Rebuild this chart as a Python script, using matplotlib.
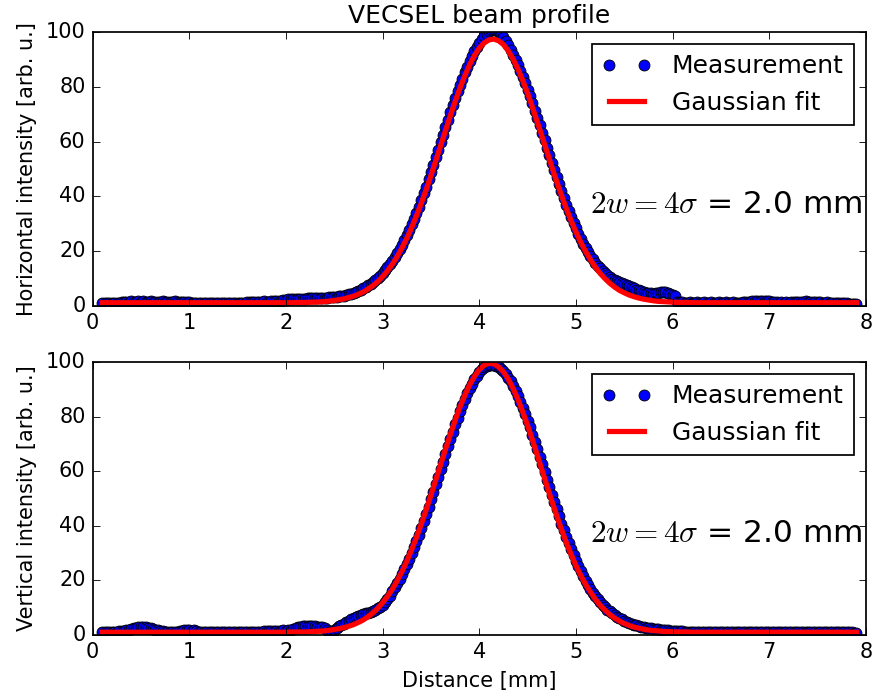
import numpy as np
import matplotlib
matplotlib.use('Agg')
import matplotlib.pyplot as plt

plt.style.use('classic')

# measured points every 0.025 mm, fitted curve every 0.05 mm, both from 0.1 mm
x_start = 0.1
meas_step = 0.025
fit_step = 0.05

horiz_meas = [
    1.0, 1.1, 1.0, 1.1, 1.0, 1.0, 1.1, 1.2,          # 0.1
    1.3, 1.5, 1.6, 1.6, 1.7, 1.6, 1.6, 1.7,          # 0.3
    1.6, 1.7, 1.6, 1.6, 1.7, 1.6, 1.5, 1.6,          # 0.5
    1.6, 1.7, 1.6, 1.6, 1.5, 1.6, 1.7, 1.6,          # 0.7
    1.6, 1.5, 1.6, 1.6, 1.4, 1.2, 1.1, 1.1,          # 0.9
    1.0, 1.1, 1.1, 1.0, 1.1, 1.0, 1.1, 1.0,          # 1.1
    1.1, 1.0, 1.1, 1.1, 1.0, 1.1, 1.0, 1.1,          # 1.3
    1.1, 1.0, 1.1, 1.2, 1.3, 1.5, 1.6, 1.5,          # 1.5
    1.6, 1.5, 1.6, 1.7, 1.6, 1.6, 1.7, 1.8,          # 1.7
    1.8, 1.9, 2.0, 2.2, 2.3, 2.4, 2.5, 2.5,          # 1.9
    2.5, 2.6, 2.6, 2.7, 2.7, 2.8, 2.8, 2.8,          # 2.1
    2.9, 2.9, 3.0, 3.0, 3.1, 3.1, 3.2, 3.3,          # 2.3
    3.2, 3.3, 3.5, 3.6, 3.8, 4.0, 4.3, 4.5,          # 2.5
    4.9, 5.2, 5.6, 6.0, 6.4, 6.9, 7.5, 8.1,          # 2.7
    8.7, 9.4, 10.2, 11.1, 12.0, 13.0, 14.1, 15.3,    # 2.9
    16.4, 17.8, 19.2, 20.7, 22.4, 24.1, 25.9, 27.8,  # 3.1
    29.8, 31.9, 34.1, 36.3, 38.7, 41.1, 43.6, 46.2,  # 3.3
    48.8, 51.4, 54.2, 56.9, 59.7, 62.4, 65.2, 67.8,  # 3.5
    70.7, 73.2, 75.9, 78.3, 80.8, 83.0, 85.3, 87.3,  # 3.7
    89.5, 91.3, 93.1, 94.6, 96.1, 97.4, 98.5, 99.4,  # 3.9
    100.2, 100.6, 100.8, 100.6, 100.0, 99.2, 98.1, 96.8,  # 4.1
    95.2, 93.5, 91.7, 89.9, 88.0, 85.9, 83.7, 81.4,  # 4.3
    79.0, 76.5, 73.9, 71.3, 68.6, 65.9, 63.1, 60.4,  # 4.5
    57.7, 55.0, 52.2, 49.6, 46.9, 44.4, 41.8, 39.4,  # 4.7
    36.9, 34.6, 32.4, 30.3, 28.3, 26.4, 24.5, 22.8,  # 4.9
    21.2, 19.7, 18.3, 17.0, 15.8, 14.7, 13.7, 12.8,  # 5.1
    12.0, 11.2, 10.5, 9.9, 9.4, 9.0, 8.6, 8.3,       # 5.3
    8.0, 7.6, 7.2, 6.8, 6.4, 6.0, 5.7, 5.4,          # 5.5
    5.1, 4.9, 4.7, 4.6, 4.5, 4.6, 4.8, 5.0,          # 5.7
    5.1, 5.0, 4.8, 4.5, 4.1, 3.6, 1.6, 1.3,          # 5.9
    1.3, 1.2, 1.2, 1.3, 1.2, 1.2, 1.3, 1.2,          # 6.1
    1.2, 1.3, 1.2, 1.2, 1.3, 1.2, 1.2, 1.3,          # 6.3
    1.2, 1.2, 1.3, 1.2, 1.2, 1.3, 1.2, 1.2,          # 6.5
    1.2, 1.3, 1.4, 1.5, 1.6, 1.7, 1.8, 1.7,          # 6.7
    1.8, 1.9, 1.8, 1.7, 1.8, 1.6, 1.4, 1.3,          # 6.9
    1.2, 1.3, 1.2, 1.3, 1.2, 1.4, 1.5, 1.6,          # 7.1
    1.6, 1.5, 1.6, 1.7, 1.6, 1.5, 1.6, 1.5,          # 7.3
    1.4, 1.3, 1.2, 1.2, 1.3, 1.2, 1.2, 1.1,          # 7.5
    1.1, 1.2, 1.1, 1.0, 1.0, 0.9, 0.8, 0.7,          # 7.7
    0.6,                                             # 7.9
]

horiz_fit = [
    1.2, 1.2, 1.2, 1.2,      # 0.1
    1.2, 1.2, 1.2, 1.2,      # 0.3
    1.2, 1.2, 1.2, 1.2,      # 0.5
    1.2, 1.2, 1.2, 1.2,      # 0.7
    1.2, 1.2, 1.2, 1.2,      # 0.9
    1.2, 1.2, 1.2, 1.2,      # 1.1
    1.2, 1.2, 1.2, 1.2,      # 1.3
    1.2, 1.2, 1.2, 1.2,      # 1.5
    1.2, 1.2, 1.2, 1.2,      # 1.7
    1.2, 1.2, 1.2, 1.2,      # 1.9
    1.3, 1.3, 1.3, 1.4,      # 2.1
    1.4, 1.5, 1.6, 1.8,      # 2.3
    2.0, 2.3, 2.6, 3.1,      # 2.5
    3.6, 4.3, 5.1, 6.2,      # 2.7
    7.4, 8.9, 10.7, 12.8,    # 2.9
    15.2, 18.0, 21.2, 24.7,  # 3.1
    28.6, 32.9, 37.5, 42.4,  # 3.3
    47.6, 53.0, 58.5, 64.0,  # 3.5
    69.4, 74.6, 79.5, 84.0,  # 3.7
    88.0, 91.4, 94.1, 96.0,  # 3.9
    97.1, 97.4, 96.8, 95.4,  # 4.1
    93.1, 90.1, 86.5, 82.3,  # 4.3
    77.6, 72.5, 67.2, 61.8,  # 4.5
    56.3, 50.8, 45.5, 40.4,  # 4.7
    35.6, 31.1, 27.0, 23.2,  # 4.9
    19.9, 16.9, 14.2, 11.9,  # 5.1
    10.0, 8.3, 6.9, 5.7,     # 5.3
    4.8, 4.0, 3.4, 2.9,      # 5.5
    2.5, 2.2, 1.9, 1.7,      # 5.7
    1.6, 1.5, 1.4, 1.3,      # 5.9
    1.3, 1.3, 1.2, 1.2,      # 6.1
    1.2, 1.2, 1.2, 1.2,      # 6.3
    1.2, 1.2, 1.2, 1.2,      # 6.5
    1.2, 1.2, 1.2, 1.2,      # 6.7
    1.2, 1.2, 1.2, 1.2,      # 6.9
    1.2, 1.2, 1.2, 1.2,      # 7.1
    1.2, 1.2, 1.2, 1.2,      # 7.3
    1.2, 1.2, 1.2, 1.2,      # 7.5
    1.2, 1.2, 1.2, 1.2,      # 7.7
    1.2,                     # 7.9
]

vert_meas = [
    1.0, 1.1, 1.0, 1.1, 1.2, 1.1, 1.2, 1.3,          # 0.1
    1.4, 1.6, 1.8, 2.0, 2.2, 2.4, 2.6, 2.8,          # 0.3
    2.9, 2.9, 2.8, 2.6, 2.4, 2.2, 2.0, 1.7,          # 0.5
    1.5, 1.3, 1.2, 1.1, 1.2, 1.2, 1.1, 1.2,          # 0.7
    1.4, 1.6, 1.7, 1.8, 1.7, 1.6, 1.7, 1.5,          # 0.9
    1.2, 1.1, 1.0, 1.0, 1.1, 1.0, 1.0, 1.1,          # 1.1
    1.0, 1.0, 1.1, 1.0, 1.0, 1.1, 1.0, 1.0,          # 1.3
    1.1, 1.0, 1.0, 1.1, 1.0, 1.0, 1.1, 1.0,          # 1.5
    1.0, 1.1, 1.2, 1.3, 1.4, 1.5, 1.6, 1.5,          # 1.7
    1.6, 1.5, 1.6, 1.7, 1.6, 1.7, 1.9, 2.2,          # 1.9
    2.5, 2.8, 3.0, 3.2, 3.3, 3.3, 3.2, 3.3,          # 2.1
    3.2, 3.1, 3.0, 2.8, 2.5, 2.0, 1.0, 0.4,          # 2.3
    2.0, 2.6, 3.2, 3.7, 4.2, 4.7, 5.2, 5.7,          # 2.5
    6.1, 6.5, 6.9, 7.3, 7.6, 7.9, 8.2, 8.5,          # 2.7
    8.8, 9.3, 9.8, 10.4, 11.1, 12.0, 13.0, 14.3,     # 2.9
    16.0, 17.4, 18.9, 20.5, 22.2, 24.0, 25.9, 27.9,  # 3.1
    30.0, 32.2, 34.5, 36.8, 39.3, 41.8, 44.3, 47.0,  # 3.3
    49.7, 52.4, 55.2, 58.0, 60.7, 63.5, 66.3, 69.1,  # 3.5
    71.8, 74.5, 77.1, 79.6, 82.0, 84.3, 86.5, 88.5,  # 3.7
    90.4, 92.1, 93.7, 95.0, 96.3, 97.3, 98.0, 98.6,  # 3.9
    98.8, 98.9, 98.8, 98.5, 98.0, 97.4, 96.6, 95.5,  # 4.1
    94.3, 92.9, 91.3, 89.5, 87.6, 85.5, 83.3, 81.0,  # 4.3
    78.5, 76.0, 73.4, 70.8, 68.0, 65.3, 62.5, 59.7,  # 4.5
    56.9, 54.2, 51.4, 48.7, 46.0, 43.4, 40.8, 38.3,  # 4.7
    35.9, 33.6, 31.4, 29.2, 27.2, 25.2, 23.4, 21.6,  # 4.9
    19.9, 18.4, 16.9, 15.5, 14.2, 13.0, 11.9, 10.9,  # 5.1
    10.2, 9.3, 8.6, 7.9, 7.3, 6.7, 6.2, 5.7,         # 5.3
    5.2, 4.8, 4.4, 4.1, 3.8, 3.5, 3.3, 3.1,          # 5.5
    2.9, 2.7, 2.6, 2.4, 2.3, 2.2, 2.1, 2.0,          # 5.7
    1.9, 1.8, 1.7, 1.6, 1.5, 1.5, 1.4, 1.3,          # 5.9
    1.3, 1.2, 1.2, 1.1, 1.2, 1.1, 1.1, 1.0,          # 6.1
    1.1, 1.0, 1.1, 1.0, 1.0, 1.1, 1.0, 1.0,          # 6.3
    1.0, 1.1, 1.0, 1.0, 1.1, 1.0, 1.0, 1.1,          # 6.5
    1.0, 1.0, 1.1, 1.0, 1.0, 1.1, 1.0, 1.0,          # 6.7
    1.1, 1.0, 1.0, 1.1, 1.0, 1.0, 1.1, 1.0,          # 6.9
    1.0, 1.1, 1.0, 1.0, 1.0, 1.1, 1.0, 1.0,          # 7.1
    1.0, 1.0, 1.1, 1.0, 1.0, 1.0, 1.1, 1.0,          # 7.3
    1.0, 1.1, 1.0, 1.0, 1.0, 1.0, 1.1, 1.0,          # 7.5
    1.0, 1.0, 1.0, 1.1, 1.0, 1.0, 1.0, 0.9,          # 7.7
    0.9,                                             # 7.9
]

vert_fit = [
    1.0, 1.0, 1.0, 1.0,      # 0.1
    1.0, 1.0, 1.0, 1.0,      # 0.3
    1.0, 1.0, 1.0, 1.0,      # 0.5
    1.0, 1.0, 1.0, 1.0,      # 0.7
    1.0, 1.0, 1.0, 1.0,      # 0.9
    1.0, 1.0, 1.0, 1.0,      # 1.1
    1.0, 1.0, 1.0, 1.0,      # 1.3
    1.0, 1.0, 1.0, 1.0,      # 1.5
    1.0, 1.0, 1.0, 1.0,      # 1.7
    1.0, 1.0, 1.0, 1.1,      # 1.9
    1.1, 1.1, 1.1, 1.2,      # 2.1
    1.3, 1.4, 1.5, 1.7,      # 2.3
    2.0, 2.3, 2.7, 3.2,      # 2.5
    3.8, 4.6, 5.5, 6.7,      # 2.7
    8.1, 9.8, 11.8, 14.1,    # 2.9
    16.7, 19.8, 23.2, 27.0,  # 3.1
    31.2, 35.7, 40.6, 45.8,  # 3.3
    51.2, 56.8, 62.4, 68.0,  # 3.5
    73.4, 78.6, 83.5, 87.8,  # 3.7
    91.6, 94.7, 97.2, 98.8,  # 3.9
    99.5, 99.3, 98.2, 96.4,  # 4.1
    93.7, 90.3, 86.3, 81.7,  # 4.3
    76.7, 71.4, 65.9, 60.2,  # 4.5
    54.6, 49.1, 43.8, 38.7,  # 4.7
    33.9, 29.5, 25.4, 21.8,  # 4.9
    18.5, 15.7, 13.1, 10.9,  # 5.1
    9.1, 7.5, 6.2, 5.1,      # 5.3
    4.2, 3.5, 2.9, 2.5,      # 5.5
    2.1, 1.8, 1.6, 1.5,      # 5.7
    1.3, 1.2, 1.2, 1.1,      # 5.9
    1.1, 1.1, 1.0, 1.0,      # 6.1
    1.0, 1.0, 1.0, 1.0,      # 6.3
    1.0, 1.0, 1.0, 1.0,      # 6.5
    1.0, 1.0, 1.0, 1.0,      # 6.7
    1.0, 1.0, 1.0, 1.0,      # 6.9
    1.0, 1.0, 1.0, 1.0,      # 7.1
    1.0, 1.0, 1.0, 1.0,      # 7.3
    1.0, 1.0, 1.0, 1.0,      # 7.5
    1.0, 1.0, 1.0, 1.0,      # 7.7
    1.0,                     # 7.9
]

ylabels = ['Horizontal intensity [arb. u.]', 'Vertical intensity [arb. u.]']
width_note = r'$2w=4\sigma$ = 2.0 mm'

fig = plt.figure(figsize=(877 / 125.0, 698 / 125.0), dpi=125)
fig.patch.set_facecolor('white')
ax1 = fig.add_axes([0.1055, 0.5616, 0.882, 0.3926])
ax2 = fig.add_axes([0.1055, 0.0903, 0.882, 0.3911])

for ax, meas, fit, lab in zip([ax1, ax2], [horiz_meas, vert_meas],
                              [horiz_fit, vert_fit], ylabels):
    xm = x_start + meas_step * np.arange(len(meas))
    xf = x_start + fit_step * np.arange(len(fit))
    ax.plot(xm, meas, 'bo', markersize=6.3, label='Measurement')
    ax.plot(xf, fit, 'r-', lw=3, label='Gaussian fit')
    ax.set_xlim(0, 8)
    ax.set_ylim(0, 100)
    ax.set_ylabel(lab)
    ax.legend(loc='upper right')
    ax.text(7.96, 37, width_note, ha='right', va='center', fontsize=18)

ax1.set_title('VECSEL beam profile')
ax2.set_xlabel('Distance [mm]')

fig.savefig('out.png', dpi=125, facecolor='white')
